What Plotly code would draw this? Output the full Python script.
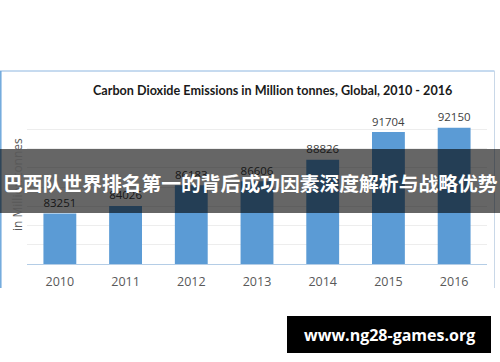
import plotly.graph_objects as go

years = ["2010", "2011", "2012", "2013", "2014", "2015", "2016"]
emissions = [83251, 84026, 86183, 86606, 88826, 91704, 92150]
title_text = "Carbon Dioxide Emissions in Million tonnes, Global, 2010 - 2016"
y_title = "in Million tonnes"
banner_text = "巴西队世界排名第一的背后成功因素深度解析与战略优势"
watermark_text = "www.ng28-games.org"

W_FIG, H_FIG = 500, 362
L, R, T, B = 27, 13, 110, 98
PW = W_FIG - L - R
PH = H_FIG - T - B


def xp(px):
    return (px - L) / PW


def yp(py):
    return (H_FIG - B - py) / PH


fig = go.Figure()
fig.add_trace(go.Bar(
    x=years, y=emissions,
    text=[str(v) for v in emissions],
    textposition="outside", cliponaxis=False,
    textfont=dict(family="Open Sans", size=13, color="#404040"),
    marker=dict(color="#5B9BD5", line=dict(width=0)),
    hoverinfo="skip",
))

annotations = []
annotations.append(dict(
    x=xp(272), y=yp(90), xref="paper", yref="paper", text="<b>" + title_text + "</b>",
    showarrow=False, xanchor="center", yanchor="middle",
    font=dict(family="Lato", size=12.6, color="#1a1a1a"),
))
annotations.append(dict(
    x=xp(17), y=yp(185), xref="paper", yref="paper", text=y_title,
    showarrow=False, xanchor="center", yanchor="middle", textangle=-90,
    font=dict(family="Open Sans", size=12, color="#595959"),
))

shapes = [
    dict(type="line", xref="paper", yref="paper",
         x0=xp(0), x1=xp(494.5), y0=yp(71), y1=yp(71),
         line=dict(color="#8DB6E0", width=1), layer="below"),
    dict(type="line", xref="paper", yref="paper",
         x0=xp(0.8), x1=xp(0.8), y0=yp(71), y1=yp(288),
         line=dict(color="#6FA8DC", width=1.5), layer="below"),
    dict(type="line", xref="paper", yref="paper",
         x0=xp(494.5), x1=xp(494.5), y0=yp(71), y1=yp(288),
         line=dict(color="#C9D8E8", width=1), layer="below"),
    dict(type="rect", xref="paper", yref="paper",
         x0=xp(0), x1=xp(500), y0=yp(213), y1=yp(149),
         line=dict(width=0), fillcolor="rgba(0,0,0,0.6)", layer="above"),
    dict(type="rect", xref="paper", yref="paper",
         x0=xp(287), x1=xp(491), y0=yp(353), y1=yp(316),
         line=dict(width=0), fillcolor="#000000", layer="above"),
]

annotations.append(dict(
    x=xp(250), y=yp(182), xref="paper", yref="paper", text="<b>" + banner_text + "</b>",
    showarrow=False, xanchor="center", yanchor="middle",
    font=dict(family="Noto Sans CJK SC", size=19.8, color="#ffffff"),
))
annotations.append(dict(
    x=xp(389), y=yp(334.5), xref="paper", yref="paper", text="<b>" + watermark_text + "</b>",
    showarrow=False, xanchor="center", yanchor="middle",
    font=dict(family="Open Sans", size=16, color="#ffffff"),
))

fig.update_layout(
    width=W_FIG, height=H_FIG,
    margin=dict(l=L, r=R, t=T, b=B),
    paper_bgcolor="#ffffff", plot_bgcolor="#ffffff",
    bargap=0.5, showlegend=False,
    shapes=shapes, annotations=annotations,
    xaxis=dict(
        type="category", range=[-0.5, 6.5],
        showgrid=False, showline=True, linecolor="#B4CDE6", linewidth=1,
        ticks="outside", ticklen=6, tickcolor="rgba(0,0,0,0)",
        tickfont=dict(family="Open Sans", size=12.5, color="#595959"),
        fixedrange=True,
    ),
    yaxis=dict(
        range=[78000, 94000], dtick=2000, showgrid=True, gridcolor="#EDEDED",
        gridwidth=1, showticklabels=False, zeroline=False, fixedrange=True,
    ),
)

fig.write_html(
    "out.html",
    config={"displayModeBar": False},
    post_script="document.body.style.margin='0';",
)
